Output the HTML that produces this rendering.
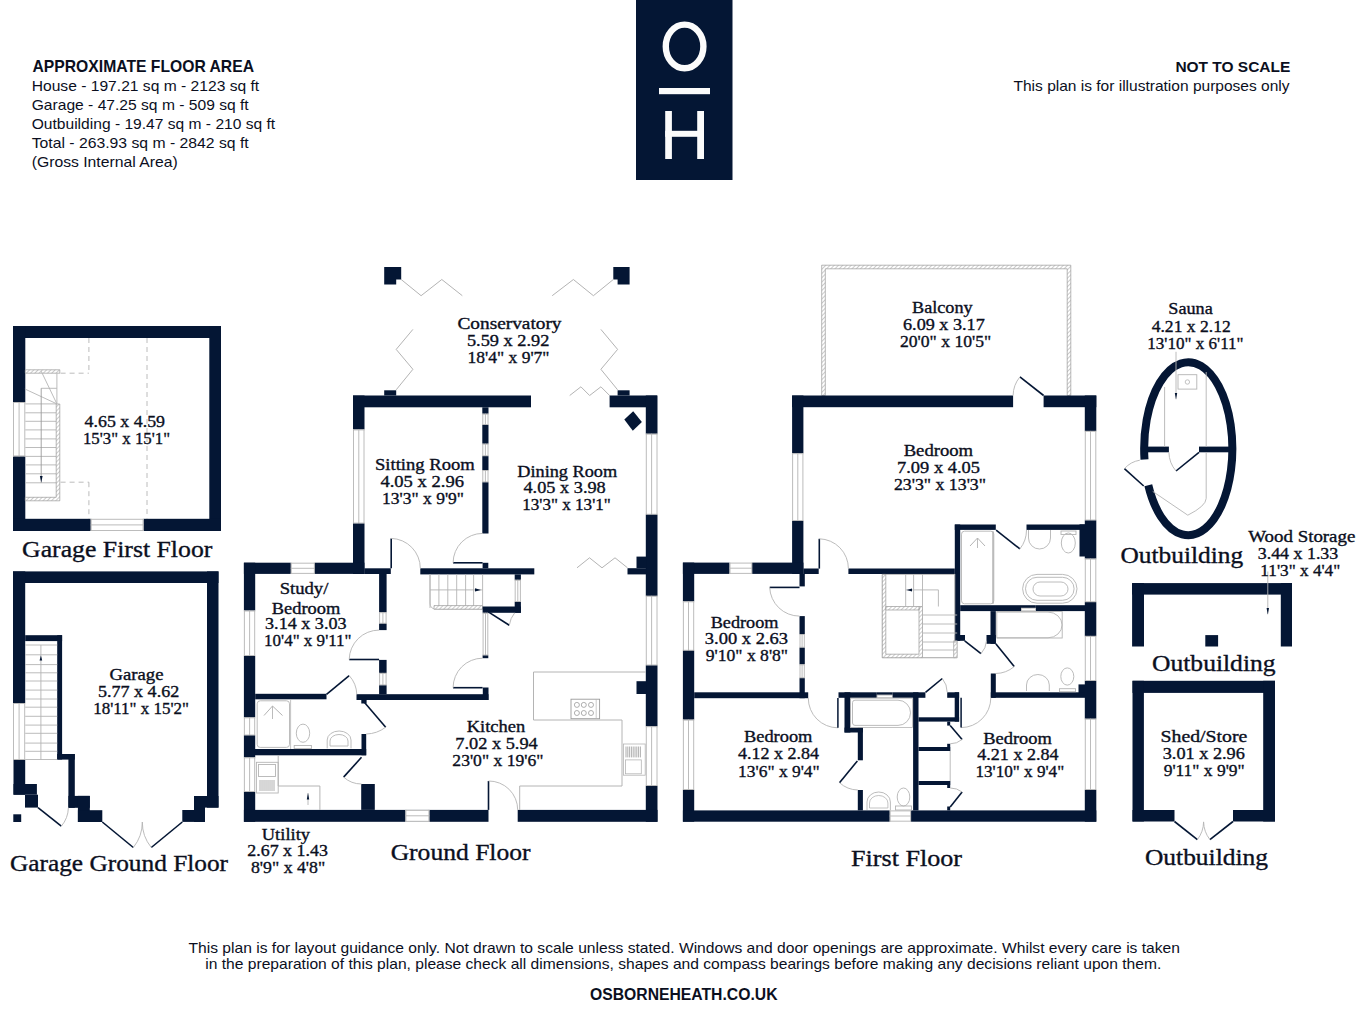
<!DOCTYPE html>
<html><head><meta charset="utf-8"><title>Floor plan</title>
<style>
html,body{margin:0;padding:0;background:#ffffff;}
body{width:1362px;height:1009px;overflow:hidden;}
svg{display:block;}
text{white-space:pre;}
</style></head>
<body>
<svg width="1362" height="1009" viewBox="0 0 1362 1009" shape-rendering="geometricPrecision">
<defs><pattern id="hatch" patternUnits="userSpaceOnUse" width="3" height="3" patternTransform="rotate(45)"><rect width="3" height="3" fill="#ffffff"/><line x1="0" y1="0" x2="0" y2="3" stroke="#a8a8a8" stroke-width="1.2"/></pattern></defs>
<rect x="0" y="0" width="1362" height="1009" fill="#ffffff"/>
<text x="32.5" y="72.0" font-family="Liberation Sans" font-size="16.2" font-weight="bold" text-anchor="start" fill="#0b0f1e" textLength="221.5" lengthAdjust="spacingAndGlyphs">APPROXIMATE FLOOR AREA</text>
<text x="31.7" y="91.0" font-family="Liberation Sans" font-size="15" font-weight="normal" text-anchor="start" fill="#0b0f1e" textLength="227.5" lengthAdjust="spacingAndGlyphs">House - 197.21 sq m - 2123 sq ft</text>
<text x="31.7" y="110.2" font-family="Liberation Sans" font-size="15" font-weight="normal" text-anchor="start" fill="#0b0f1e" textLength="217.0" lengthAdjust="spacingAndGlyphs">Garage - 47.25 sq m - 509 sq ft</text>
<text x="31.7" y="129.2" font-family="Liberation Sans" font-size="15" font-weight="normal" text-anchor="start" fill="#0b0f1e" textLength="243.5" lengthAdjust="spacingAndGlyphs">Outbuilding - 19.47 sq m - 210 sq ft</text>
<text x="31.7" y="148.2" font-family="Liberation Sans" font-size="15" font-weight="normal" text-anchor="start" fill="#0b0f1e" textLength="217.0" lengthAdjust="spacingAndGlyphs">Total - 263.93 sq m - 2842 sq ft</text>
<text x="31.7" y="166.5" font-family="Liberation Sans" font-size="15" font-weight="normal" text-anchor="start" fill="#0b0f1e" textLength="146.0" lengthAdjust="spacingAndGlyphs">(Gross Internal Area)</text>
<text x="1290.3" y="71.6" font-family="Liberation Sans" font-size="15.5" font-weight="bold" text-anchor="end" fill="#0b0f1e" textLength="114.9" lengthAdjust="spacingAndGlyphs">NOT TO SCALE</text>
<text x="1289.5" y="91.0" font-family="Liberation Sans" font-size="14.8" font-weight="normal" text-anchor="end" fill="#0b0f1e" textLength="276.0" lengthAdjust="spacingAndGlyphs">This plan is for illustration purposes only</text>
<text x="188.5" y="953.0" font-family="Liberation Sans" font-size="14.8" font-weight="normal" text-anchor="start" fill="#0b0f1e" textLength="991.5" lengthAdjust="spacingAndGlyphs">This plan is for layout guidance only. Not drawn to scale unless stated. Windows and door openings are approximate. Whilst every care is taken</text>
<text x="205.3" y="969.0" font-family="Liberation Sans" font-size="14.8" font-weight="normal" text-anchor="start" fill="#0b0f1e" textLength="956.0" lengthAdjust="spacingAndGlyphs">in the preparation of this plan, please check all dimensions, shapes and compass bearings before making any decisions reliant upon them.</text>
<text x="590.0" y="1000.2" font-family="Liberation Sans" font-size="15.8" font-weight="bold" text-anchor="start" fill="#0b0f1e" textLength="187.5" lengthAdjust="spacingAndGlyphs">OSBORNEHEATH.CO.UK</text>
<rect x="636.0" y="0.0" width="96.5" height="180.0" fill="#041634"/>
<ellipse cx="684.6" cy="46.4" rx="18.8" ry="21.8" fill="none" stroke="#fbfbfb" stroke-width="6.4"/>
<rect x="659.0" y="88.0" width="51.0" height="6.2" fill="#fbfbfb"/>
<rect x="665.2" y="111.0" width="6.7" height="48.0" fill="#fbfbfb"/>
<rect x="697.2" y="111.0" width="6.8" height="48.0" fill="#fbfbfb"/>
<rect x="665.2" y="130.8" width="38.8" height="6.0" fill="#fbfbfb"/>
<rect x="13.0" y="326.0" width="208.0" height="12.0" fill="#041634"/>
<rect x="13.0" y="326.0" width="12.3" height="76.0" fill="#041634"/>
<rect x="13.0" y="456.4" width="12.3" height="74.6" fill="#041634"/>
<line x1="13.5" y1="402.0" x2="13.5" y2="456.4" stroke="#b4b4b4" stroke-width="0.9"/>
<line x1="19.1" y1="402.0" x2="19.1" y2="456.4" stroke="#b4b4b4" stroke-width="0.9"/>
<line x1="24.8" y1="402.0" x2="24.8" y2="456.4" stroke="#b4b4b4" stroke-width="0.9"/>
<line x1="13.0" y1="402.5" x2="25.3" y2="402.5" stroke="#b4b4b4" stroke-width="0.9"/>
<line x1="13.0" y1="455.9" x2="25.3" y2="455.9" stroke="#b4b4b4" stroke-width="0.9"/>
<rect x="209.3" y="326.0" width="11.7" height="205.0" fill="#041634"/>
<rect x="13.0" y="518.8" width="77.7" height="12.2" fill="#041634"/>
<rect x="143.6" y="518.8" width="77.4" height="12.2" fill="#041634"/>
<line x1="90.7" y1="519.3" x2="143.6" y2="519.3" stroke="#b4b4b4" stroke-width="0.9"/>
<line x1="90.7" y1="524.9" x2="143.6" y2="524.9" stroke="#b4b4b4" stroke-width="0.9"/>
<line x1="90.7" y1="530.5" x2="143.6" y2="530.5" stroke="#b4b4b4" stroke-width="0.9"/>
<line x1="91.2" y1="518.8" x2="91.2" y2="531.0" stroke="#b4b4b4" stroke-width="0.9"/>
<line x1="143.1" y1="518.8" x2="143.1" y2="531.0" stroke="#b4b4b4" stroke-width="0.9"/>
<line x1="88.9" y1="338" x2="88.9" y2="373.2" stroke="#b4b4b4" stroke-width="0.9" stroke-dasharray="5,4"/>
<line x1="60.6" y1="373.2" x2="88.9" y2="373.2" stroke="#b4b4b4" stroke-width="0.9" stroke-dasharray="5,4"/>
<line x1="88.9" y1="482.2" x2="88.9" y2="518.8" stroke="#b4b4b4" stroke-width="0.9" stroke-dasharray="5,4"/>
<line x1="60.6" y1="482.2" x2="88.9" y2="482.2" stroke="#b4b4b4" stroke-width="0.9" stroke-dasharray="5,4"/>
<line x1="147" y1="338" x2="147" y2="518.8" stroke="#b4b4b4" stroke-width="0.9" stroke-dasharray="5,4"/>
<line x1="25.3" y1="403.9" x2="56.9" y2="403.9" stroke="#b4b4b4" stroke-width="0.9"/>
<line x1="25.3" y1="412.8" x2="56.9" y2="412.8" stroke="#b4b4b4" stroke-width="0.9"/>
<line x1="25.3" y1="421.3" x2="56.9" y2="421.3" stroke="#b4b4b4" stroke-width="0.9"/>
<line x1="25.3" y1="429.9" x2="56.9" y2="429.9" stroke="#b4b4b4" stroke-width="0.9"/>
<line x1="25.3" y1="438.9" x2="56.9" y2="438.9" stroke="#b4b4b4" stroke-width="0.9"/>
<line x1="25.3" y1="447.5" x2="56.9" y2="447.5" stroke="#b4b4b4" stroke-width="0.9"/>
<line x1="25.3" y1="456.4" x2="56.9" y2="456.4" stroke="#b4b4b4" stroke-width="0.9"/>
<line x1="25.3" y1="464.9" x2="56.9" y2="464.9" stroke="#b4b4b4" stroke-width="0.9"/>
<line x1="25.3" y1="473.8" x2="56.9" y2="473.8" stroke="#b4b4b4" stroke-width="0.9"/>
<line x1="25.3" y1="482.8" x2="56.9" y2="482.8" stroke="#b4b4b4" stroke-width="0.9"/>
<path d="M25.3,369.8 H59.8 V373.2 H25.3 Z" fill="url(#hatch)" fill-rule="evenodd" stroke="#9a9a9a" stroke-width="0.7"/>
<path d="M56.2,404 H59.8 V500.8 H25.3 V497.3 H56.2 Z" fill="url(#hatch)" fill-rule="evenodd" stroke="#9a9a9a" stroke-width="0.7"/>
<line x1="56.9" y1="373.4" x2="56.9" y2="403.9" stroke="#b4b4b4" stroke-width="0.9"/>
<line x1="24.9" y1="389.0" x2="56.9" y2="403.9" stroke="#b4b4b4" stroke-width="0.9"/>
<line x1="41.2" y1="371.2" x2="56.9" y2="403.9" stroke="#b4b4b4" stroke-width="0.9"/>
<line x1="41.2" y1="388.3" x2="56.9" y2="388.3" stroke="#b4b4b4" stroke-width="0.9"/>
<line x1="41.2" y1="388.3" x2="41.2" y2="482.8" stroke="#9a9a9a" stroke-width="0.9"/>
<polygon points="41.25,482.5 39.9,476 42.6,476" fill="#041634"/>
<text x="124.8" y="427.3" font-family="Liberation Serif" font-size="16.48" font-weight="normal" text-anchor="middle" fill="#0b0f1e" stroke="#0b0f1e" stroke-width="0.35" textLength="80.4" lengthAdjust="spacingAndGlyphs">4.65 x 4.59</text>
<text x="126.5" y="444.0" font-family="Liberation Serif" font-size="16.48" font-weight="normal" text-anchor="middle" fill="#0b0f1e" stroke="#0b0f1e" stroke-width="0.35" textLength="87.1" lengthAdjust="spacingAndGlyphs">15'3&quot; x 15'1&quot;</text>
<text x="117.2" y="557.3" font-family="Liberation Serif" font-size="23.69" font-weight="normal" text-anchor="middle" fill="#0b0f1e" stroke="#0b0f1e" stroke-width="0.35" textLength="190.3" lengthAdjust="spacingAndGlyphs">Garage First Floor</text>
<rect x="13.0" y="571.4" width="205.5" height="11.6" fill="#041634"/>
<rect x="13.0" y="571.4" width="12.2" height="131.6" fill="#041634"/>
<line x1="13.5" y1="703.0" x2="13.5" y2="760.0" stroke="#b4b4b4" stroke-width="0.9"/>
<line x1="19.1" y1="703.0" x2="19.1" y2="760.0" stroke="#b4b4b4" stroke-width="0.9"/>
<line x1="24.7" y1="703.0" x2="24.7" y2="760.0" stroke="#b4b4b4" stroke-width="0.9"/>
<line x1="13.0" y1="703.5" x2="25.2" y2="703.5" stroke="#b4b4b4" stroke-width="0.9"/>
<line x1="13.0" y1="759.5" x2="25.2" y2="759.5" stroke="#b4b4b4" stroke-width="0.9"/>
<rect x="13.5" y="760.0" width="11.7" height="34.7" fill="#041634"/>
<rect x="13.5" y="784.0" width="23.4" height="10.7" fill="#041634"/>
<rect x="25.0" y="794.7" width="13.0" height="12.9" fill="#041634"/>
<rect x="13.3" y="814.3" width="7.9" height="7.7" fill="#041634"/>
<rect x="207.0" y="571.4" width="11.5" height="236.2" fill="#041634"/>
<rect x="194.0" y="796.0" width="24.5" height="11.6" fill="#041634"/>
<rect x="182.3" y="810.0" width="22.7" height="11.9" fill="#041634"/>
<rect x="194.0" y="796.0" width="11.0" height="25.9" fill="#041634"/>
<rect x="25.2" y="635.2" width="36.9" height="5.9" fill="#041634"/>
<rect x="57.2" y="635.2" width="4.9" height="124.3" fill="#041634"/>
<rect x="57.2" y="754.0" width="17.6" height="5.6" fill="#041634"/>
<rect x="68.4" y="754.0" width="6.4" height="53.8" fill="#041634"/>
<rect x="68.4" y="795.9" width="21.4" height="11.9" fill="#041634"/>
<rect x="77.9" y="795.9" width="11.9" height="26.1" fill="#041634"/>
<rect x="77.9" y="810.2" width="24.4" height="11.8" fill="#041634"/>
<line x1="25.2" y1="645.0" x2="57.2" y2="645.0" stroke="#b4b4b4" stroke-width="0.9"/>
<line x1="25.2" y1="654.8" x2="57.2" y2="654.8" stroke="#b4b4b4" stroke-width="0.9"/>
<line x1="25.2" y1="664.6" x2="57.2" y2="664.6" stroke="#b4b4b4" stroke-width="0.9"/>
<line x1="25.2" y1="672.8" x2="57.2" y2="672.8" stroke="#b4b4b4" stroke-width="0.9"/>
<line x1="25.2" y1="681.0" x2="57.2" y2="681.0" stroke="#b4b4b4" stroke-width="0.9"/>
<line x1="25.2" y1="690.1" x2="57.2" y2="690.1" stroke="#b4b4b4" stroke-width="0.9"/>
<line x1="25.2" y1="699.0" x2="57.2" y2="699.0" stroke="#b4b4b4" stroke-width="0.9"/>
<line x1="25.2" y1="707.2" x2="57.2" y2="707.2" stroke="#b4b4b4" stroke-width="0.9"/>
<line x1="25.2" y1="716.3" x2="57.2" y2="716.3" stroke="#b4b4b4" stroke-width="0.9"/>
<line x1="25.2" y1="725.1" x2="57.2" y2="725.1" stroke="#b4b4b4" stroke-width="0.9"/>
<line x1="25.2" y1="733.3" x2="57.2" y2="733.3" stroke="#b4b4b4" stroke-width="0.9"/>
<line x1="25.2" y1="743.1" x2="57.2" y2="743.1" stroke="#b4b4b4" stroke-width="0.9"/>
<line x1="25.2" y1="751.3" x2="57.2" y2="751.3" stroke="#b4b4b4" stroke-width="0.9"/>
<line x1="25.2" y1="759.5" x2="57.2" y2="759.5" stroke="#b4b4b4" stroke-width="0.9"/>
<line x1="40.9" y1="645.0" x2="40.9" y2="759.5" stroke="#b4b4b4" stroke-width="0.9"/>
<polygon points="40.9,655.5 39.6,660.5 42.2,660.5" fill="#041634"/>
<line x1="38.0" y1="807.6" x2="61.3" y2="826.2" stroke="#041634" stroke-width="1.6"/>
<path d="M61.3,826.2 A29.8,29.8 0 0 0 68.4,807.8" fill="none" stroke="#b4b4b4" stroke-width="0.9"/>
<line x1="102.3" y1="822.0" x2="133.3" y2="847.5" stroke="#041634" stroke-width="1.6"/>
<line x1="182.3" y1="822.0" x2="151.3" y2="847.5" stroke="#041634" stroke-width="1.6"/>
<path d="M133.3,847.5 A40.0,40.0 0 0 0 142.3,822.0" fill="none" stroke="#b4b4b4" stroke-width="0.9"/>
<path d="M142.3,822.0 A40.0,40.0 0 0 0 151.3,847.5" fill="none" stroke="#b4b4b4" stroke-width="0.9"/>
<text x="136.5" y="680.3" font-family="Liberation Serif" font-size="16.48" font-weight="normal" text-anchor="middle" fill="#0b0f1e" stroke="#0b0f1e" stroke-width="0.35" textLength="54.0" lengthAdjust="spacingAndGlyphs">Garage</text>
<text x="138.6" y="696.7" font-family="Liberation Serif" font-size="16.48" font-weight="normal" text-anchor="middle" fill="#0b0f1e" stroke="#0b0f1e" stroke-width="0.35" textLength="81.2" lengthAdjust="spacingAndGlyphs">5.77 x 4.62</text>
<text x="141.1" y="713.7" font-family="Liberation Serif" font-size="16.48" font-weight="normal" text-anchor="middle" fill="#0b0f1e" stroke="#0b0f1e" stroke-width="0.35" textLength="95.8" lengthAdjust="spacingAndGlyphs">18'11&quot; x 15'2&quot;</text>
<text x="119.0" y="871.3" font-family="Liberation Serif" font-size="23.69" font-weight="normal" text-anchor="middle" fill="#0b0f1e" stroke="#0b0f1e" stroke-width="0.35" textLength="218.1" lengthAdjust="spacingAndGlyphs">Garage Ground Floor</text>
<polygon points="384.2,267.0 401.2,267.0 401.2,279.5 396.2,279.5 396.2,284.4 384.2,284.4" fill="#041634"/>
<polygon points="613.3,267.0 629.6,267.0 629.6,284.4 617.6,284.4 617.6,279.5 613.3,279.5" fill="#041634"/>
<polyline points="401.2,279.5 421.1,295.7 441.8,279.5 462.3,295.7" fill="none" stroke="#b4b4b4" stroke-width="1.0"/>
<polyline points="552.2,295.7 573.4,279.5 593.4,295.7 613.3,279.5" fill="none" stroke="#b4b4b4" stroke-width="1.0"/>
<polyline points="412.9,329.4 396.2,349.4 412.9,369.3 396.2,389.8" fill="none" stroke="#b4b4b4" stroke-width="1.0"/>
<polyline points="600.9,329.4 617.6,349.4 600.9,369.3 617.6,389.8" fill="none" stroke="#b4b4b4" stroke-width="1.0"/>
<polyline points="569.7,395.5 580.9,386.8 589.6,395.5 600.9,386.8 609.6,395.5" fill="none" stroke="#b4b4b4" stroke-width="1.0"/>
<text x="509.5" y="329.4" font-family="Liberation Serif" font-size="16.48" font-weight="normal" text-anchor="middle" fill="#0b0f1e" stroke="#0b0f1e" stroke-width="0.35" textLength="104.0" lengthAdjust="spacingAndGlyphs">Conservatory</text>
<text x="508.2" y="346.0" font-family="Liberation Serif" font-size="16.48" font-weight="normal" text-anchor="middle" fill="#0b0f1e" stroke="#0b0f1e" stroke-width="0.35" textLength="82.5" lengthAdjust="spacingAndGlyphs">5.59 x 2.92</text>
<text x="508.5" y="362.8" font-family="Liberation Serif" font-size="16.48" font-weight="normal" text-anchor="middle" fill="#0b0f1e" stroke="#0b0f1e" stroke-width="0.35" textLength="82.0" lengthAdjust="spacingAndGlyphs">18'4&quot; x 9'7&quot;</text>
<rect x="353.0" y="395.5" width="178.0" height="11.8" fill="#041634"/>
<rect x="384.2" y="390.3" width="12.0" height="5.2" fill="#041634"/>
<rect x="609.6" y="395.5" width="47.4" height="11.8" fill="#041634"/>
<rect x="617.6" y="390.3" width="12.0" height="5.2" fill="#041634"/>
<rect x="353.0" y="395.5" width="11.5" height="33.9" fill="#041634"/>
<line x1="353.5" y1="429.4" x2="353.5" y2="523.6" stroke="#b4b4b4" stroke-width="0.9"/>
<line x1="358.8" y1="429.4" x2="358.8" y2="523.6" stroke="#b4b4b4" stroke-width="0.9"/>
<line x1="364.0" y1="429.4" x2="364.0" y2="523.6" stroke="#b4b4b4" stroke-width="0.9"/>
<line x1="353.0" y1="429.9" x2="364.5" y2="429.9" stroke="#b4b4b4" stroke-width="0.9"/>
<line x1="353.0" y1="523.1" x2="364.5" y2="523.1" stroke="#b4b4b4" stroke-width="0.9"/>
<rect x="353.0" y="523.6" width="11.5" height="50.4" fill="#041634"/>
<rect x="482.3" y="407.3" width="6.2" height="6.4" fill="#041634"/>
<line x1="482.8" y1="413.7" x2="482.8" y2="425.0" stroke="#b4b4b4" stroke-width="0.9"/>
<line x1="485.4" y1="413.7" x2="485.4" y2="425.0" stroke="#b4b4b4" stroke-width="0.9"/>
<line x1="488.0" y1="413.7" x2="488.0" y2="425.0" stroke="#b4b4b4" stroke-width="0.9"/>
<line x1="482.3" y1="414.2" x2="488.5" y2="414.2" stroke="#b4b4b4" stroke-width="0.9"/>
<line x1="482.3" y1="424.5" x2="488.5" y2="424.5" stroke="#b4b4b4" stroke-width="0.9"/>
<rect x="482.3" y="425.0" width="6.2" height="18.7" fill="#041634"/>
<line x1="482.8" y1="443.7" x2="482.8" y2="456.2" stroke="#b4b4b4" stroke-width="0.9"/>
<line x1="485.4" y1="443.7" x2="485.4" y2="456.2" stroke="#b4b4b4" stroke-width="0.9"/>
<line x1="488.0" y1="443.7" x2="488.0" y2="456.2" stroke="#b4b4b4" stroke-width="0.9"/>
<line x1="482.3" y1="444.2" x2="488.5" y2="444.2" stroke="#b4b4b4" stroke-width="0.9"/>
<line x1="482.3" y1="455.7" x2="488.5" y2="455.7" stroke="#b4b4b4" stroke-width="0.9"/>
<rect x="482.3" y="456.2" width="6.2" height="13.8" fill="#041634"/>
<line x1="482.8" y1="470.0" x2="482.8" y2="482.4" stroke="#b4b4b4" stroke-width="0.9"/>
<line x1="485.4" y1="470.0" x2="485.4" y2="482.4" stroke="#b4b4b4" stroke-width="0.9"/>
<line x1="488.0" y1="470.0" x2="488.0" y2="482.4" stroke="#b4b4b4" stroke-width="0.9"/>
<line x1="482.3" y1="470.5" x2="488.5" y2="470.5" stroke="#b4b4b4" stroke-width="0.9"/>
<line x1="482.3" y1="481.9" x2="488.5" y2="481.9" stroke="#b4b4b4" stroke-width="0.9"/>
<rect x="482.3" y="482.4" width="6.2" height="51.1" fill="#041634"/>
<rect x="645.8" y="395.5" width="11.7" height="38.2" fill="#041634"/>
<line x1="646.3" y1="433.7" x2="646.3" y2="514.8" stroke="#b4b4b4" stroke-width="0.9"/>
<line x1="651.6" y1="433.7" x2="651.6" y2="514.8" stroke="#b4b4b4" stroke-width="0.9"/>
<line x1="657.0" y1="433.7" x2="657.0" y2="514.8" stroke="#b4b4b4" stroke-width="0.9"/>
<line x1="645.8" y1="434.2" x2="657.5" y2="434.2" stroke="#b4b4b4" stroke-width="0.9"/>
<line x1="645.8" y1="514.3" x2="657.5" y2="514.3" stroke="#b4b4b4" stroke-width="0.9"/>
<rect x="645.8" y="514.8" width="11.7" height="81.0" fill="#041634"/>
<line x1="646.3" y1="595.8" x2="646.3" y2="665.5" stroke="#b4b4b4" stroke-width="0.9"/>
<line x1="651.6" y1="595.8" x2="651.6" y2="665.5" stroke="#b4b4b4" stroke-width="0.9"/>
<line x1="657.0" y1="595.8" x2="657.0" y2="665.5" stroke="#b4b4b4" stroke-width="0.9"/>
<line x1="645.8" y1="596.3" x2="657.5" y2="596.3" stroke="#b4b4b4" stroke-width="0.9"/>
<line x1="645.8" y1="665.0" x2="657.5" y2="665.0" stroke="#b4b4b4" stroke-width="0.9"/>
<rect x="645.8" y="665.5" width="11.7" height="60.7" fill="#041634"/>
<line x1="646.3" y1="726.2" x2="646.3" y2="786.0" stroke="#b4b4b4" stroke-width="0.9"/>
<line x1="651.6" y1="726.2" x2="651.6" y2="786.0" stroke="#b4b4b4" stroke-width="0.9"/>
<line x1="657.0" y1="726.2" x2="657.0" y2="786.0" stroke="#b4b4b4" stroke-width="0.9"/>
<line x1="645.8" y1="726.7" x2="657.5" y2="726.7" stroke="#b4b4b4" stroke-width="0.9"/>
<line x1="645.8" y1="785.5" x2="657.5" y2="785.5" stroke="#b4b4b4" stroke-width="0.9"/>
<rect x="645.8" y="786.0" width="11.7" height="35.8" fill="#041634"/>
<rect x="636.5" y="556.6" width="9.8" height="11.6" fill="#041634"/>
<rect x="627.5" y="568.2" width="18.8" height="6.2" fill="#041634"/>
<rect x="636.5" y="681.2" width="9.8" height="12.8" fill="#041634"/>
<polygon points="633.2,411.2 641.9,421.9 632.8,430.7 624.3,419.6" fill="#041634"/>
<polyline points="577.0,567.8 589.5,557.8 602.0,567.8 615.0,557.8 627.5,567.8" fill="none" stroke="#b4b4b4" stroke-width="1.0"/>
<rect x="243.9" y="562.7" width="46.9" height="11.2" fill="#041634"/>
<line x1="290.8" y1="563.2" x2="314.9" y2="563.2" stroke="#b4b4b4" stroke-width="0.9"/>
<line x1="290.8" y1="568.3" x2="314.9" y2="568.3" stroke="#b4b4b4" stroke-width="0.9"/>
<line x1="290.8" y1="573.4" x2="314.9" y2="573.4" stroke="#b4b4b4" stroke-width="0.9"/>
<line x1="291.3" y1="562.7" x2="291.3" y2="573.9" stroke="#b4b4b4" stroke-width="0.9"/>
<line x1="314.4" y1="562.7" x2="314.4" y2="573.9" stroke="#b4b4b4" stroke-width="0.9"/>
<rect x="314.9" y="562.7" width="49.5" height="11.2" fill="#041634"/>
<rect x="364.4" y="568.3" width="26.4" height="5.7" fill="#041634"/>
<rect x="420.3" y="568.3" width="114.0" height="6.1" fill="#041634"/>
<rect x="243.9" y="562.7" width="11.3" height="47.8" fill="#041634"/>
<line x1="244.4" y1="610.5" x2="244.4" y2="656.0" stroke="#b4b4b4" stroke-width="0.9"/>
<line x1="249.6" y1="610.5" x2="249.6" y2="656.0" stroke="#b4b4b4" stroke-width="0.9"/>
<line x1="254.7" y1="610.5" x2="254.7" y2="656.0" stroke="#b4b4b4" stroke-width="0.9"/>
<line x1="243.9" y1="611.0" x2="255.2" y2="611.0" stroke="#b4b4b4" stroke-width="0.9"/>
<line x1="243.9" y1="655.5" x2="255.2" y2="655.5" stroke="#b4b4b4" stroke-width="0.9"/>
<rect x="243.9" y="656.0" width="11.3" height="61.3" fill="#041634"/>
<line x1="244.4" y1="717.3" x2="244.4" y2="735.5" stroke="#b4b4b4" stroke-width="0.9"/>
<line x1="249.6" y1="717.3" x2="249.6" y2="735.5" stroke="#b4b4b4" stroke-width="0.9"/>
<line x1="254.7" y1="717.3" x2="254.7" y2="735.5" stroke="#b4b4b4" stroke-width="0.9"/>
<line x1="243.9" y1="717.8" x2="255.2" y2="717.8" stroke="#b4b4b4" stroke-width="0.9"/>
<line x1="243.9" y1="735.0" x2="255.2" y2="735.0" stroke="#b4b4b4" stroke-width="0.9"/>
<rect x="243.9" y="735.5" width="11.3" height="21.8" fill="#041634"/>
<line x1="244.4" y1="757.3" x2="244.4" y2="792.0" stroke="#b4b4b4" stroke-width="0.9"/>
<line x1="249.6" y1="757.3" x2="249.6" y2="792.0" stroke="#b4b4b4" stroke-width="0.9"/>
<line x1="254.7" y1="757.3" x2="254.7" y2="792.0" stroke="#b4b4b4" stroke-width="0.9"/>
<line x1="243.9" y1="757.8" x2="255.2" y2="757.8" stroke="#b4b4b4" stroke-width="0.9"/>
<line x1="243.9" y1="791.5" x2="255.2" y2="791.5" stroke="#b4b4b4" stroke-width="0.9"/>
<rect x="243.9" y="792.0" width="11.3" height="29.8" fill="#041634"/>
<rect x="379.1" y="573.9" width="7.5" height="38.3" fill="#041634"/>
<line x1="379.6" y1="612.2" x2="379.6" y2="623.8" stroke="#b4b4b4" stroke-width="0.9"/>
<line x1="382.9" y1="612.2" x2="382.9" y2="623.8" stroke="#b4b4b4" stroke-width="0.9"/>
<line x1="386.1" y1="612.2" x2="386.1" y2="623.8" stroke="#b4b4b4" stroke-width="0.9"/>
<line x1="379.1" y1="612.7" x2="386.6" y2="612.7" stroke="#b4b4b4" stroke-width="0.9"/>
<line x1="379.1" y1="623.3" x2="386.6" y2="623.3" stroke="#b4b4b4" stroke-width="0.9"/>
<rect x="379.1" y="623.8" width="7.5" height="6.3" fill="#041634"/>
<rect x="379.1" y="659.9" width="7.5" height="13.0" fill="#041634"/>
<line x1="379.6" y1="672.9" x2="379.6" y2="685.4" stroke="#b4b4b4" stroke-width="0.9"/>
<line x1="382.9" y1="672.9" x2="382.9" y2="685.4" stroke="#b4b4b4" stroke-width="0.9"/>
<line x1="386.1" y1="672.9" x2="386.1" y2="685.4" stroke="#b4b4b4" stroke-width="0.9"/>
<line x1="379.1" y1="673.4" x2="386.6" y2="673.4" stroke="#b4b4b4" stroke-width="0.9"/>
<line x1="379.1" y1="684.9" x2="386.6" y2="684.9" stroke="#b4b4b4" stroke-width="0.9"/>
<rect x="379.1" y="685.4" width="7.5" height="8.9" fill="#041634"/>
<line x1="379.1" y1="659.5" x2="349.2" y2="659.5" stroke="#041634" stroke-width="1.6"/>
<path d="M349.2,659.5 A29.9,29.9 0 0 1 379.1,630.1" fill="none" stroke="#b4b4b4" stroke-width="0.9"/>
<line x1="391.2" y1="568.3" x2="391.2" y2="538.4" stroke="#041634" stroke-width="1.6"/>
<path d="M391.2,538.4 A29.9,29.9 0 0 1 420.3,568.3" fill="none" stroke="#b4b4b4" stroke-width="0.9"/>
<rect x="255.2" y="693.8" width="71.3" height="5.5" fill="#041634"/>
<rect x="356.5" y="694.2" width="132.0" height="5.8" fill="#041634"/>
<rect x="482.8" y="687.5" width="5.7" height="12.5" fill="#041634"/>
<line x1="326.5" y1="694.3" x2="349.2" y2="675.6" stroke="#041634" stroke-width="1.6"/>
<path d="M349.2,675.6 A29.4,29.4 0 0 1 356.8,694.3" fill="none" stroke="#b4b4b4" stroke-width="0.9"/>
<rect x="361.3" y="699.3" width="5.3" height="4.2" fill="#041634"/>
<line x1="482.6" y1="562.8" x2="453.1" y2="562.8" stroke="#041634" stroke-width="1.6"/>
<path d="M453.1,562.8 A29.5,29.5 0 0 1 482.6,533.4" fill="none" stroke="#b4b4b4" stroke-width="0.9"/>
<rect x="482.6" y="562.8" width="5.7" height="5.5" fill="#041634"/>
<line x1="430.0" y1="574.4" x2="430.0" y2="608.0" stroke="#b4b4b4" stroke-width="0.9"/>
<line x1="438.9" y1="574.4" x2="438.9" y2="608.0" stroke="#b4b4b4" stroke-width="0.9"/>
<line x1="447.8" y1="574.4" x2="447.8" y2="608.0" stroke="#b4b4b4" stroke-width="0.9"/>
<line x1="456.7" y1="574.4" x2="456.7" y2="608.0" stroke="#b4b4b4" stroke-width="0.9"/>
<line x1="465.6" y1="574.4" x2="465.6" y2="608.0" stroke="#b4b4b4" stroke-width="0.9"/>
<line x1="473.6" y1="574.4" x2="473.6" y2="608.0" stroke="#b4b4b4" stroke-width="0.9"/>
<line x1="430.0" y1="589.9" x2="482.6" y2="589.9" stroke="#b4b4b4" stroke-width="0.9"/>
<line x1="482.6" y1="574.4" x2="482.6" y2="609.0" stroke="#b4b4b4" stroke-width="0.9"/>
<polygon points="481,589.9 475,588.3 475,591.5" fill="#041634"/>
<path d="M430,574.4 L430,603 Q430,609 436,609 L482.6,609" fill="none" stroke="#b4b4b4" stroke-width="0.9"/>
<path d="M434,605.6 H482.6 V609.2 H434 Z" fill="url(#hatch)" fill-rule="evenodd" stroke="#9a9a9a" stroke-width="0.7"/>
<rect x="514.7" y="574.4" width="6.2" height="5.4" fill="#041634"/>
<line x1="515.2" y1="579.8" x2="515.2" y2="602.0" stroke="#b4b4b4" stroke-width="0.9"/>
<line x1="517.8" y1="579.8" x2="517.8" y2="602.0" stroke="#b4b4b4" stroke-width="0.9"/>
<line x1="520.4" y1="579.8" x2="520.4" y2="602.0" stroke="#b4b4b4" stroke-width="0.9"/>
<line x1="514.7" y1="580.3" x2="520.9" y2="580.3" stroke="#b4b4b4" stroke-width="0.9"/>
<line x1="514.7" y1="601.5" x2="520.9" y2="601.5" stroke="#b4b4b4" stroke-width="0.9"/>
<rect x="514.7" y="602.0" width="6.2" height="10.8" fill="#041634"/>
<rect x="482.6" y="606.5" width="38.3" height="6.3" fill="#041634"/>
<line x1="483.1" y1="612.8" x2="483.1" y2="655.5" stroke="#b4b4b4" stroke-width="0.9"/>
<line x1="485.5" y1="612.8" x2="485.5" y2="655.5" stroke="#b4b4b4" stroke-width="0.9"/>
<line x1="487.8" y1="612.8" x2="487.8" y2="655.5" stroke="#b4b4b4" stroke-width="0.9"/>
<line x1="482.6" y1="613.3" x2="488.3" y2="613.3" stroke="#b4b4b4" stroke-width="0.9"/>
<line x1="482.6" y1="655.0" x2="488.3" y2="655.0" stroke="#b4b4b4" stroke-width="0.9"/>
<rect x="482.6" y="655.5" width="5.7" height="2.7" fill="#041634"/>
<line x1="488.3" y1="611.9" x2="509.3" y2="625.2" stroke="#041634" stroke-width="1.6"/>
<path d="M509.3,625.2 A24.9,24.9 0 0 1 514.7,612.8" fill="none" stroke="#b4b4b4" stroke-width="0.9"/>
<line x1="482.6" y1="687.7" x2="453.1" y2="687.7" stroke="#041634" stroke-width="1.6"/>
<path d="M453.1,687.7 A29.5,29.5 0 0 1 482.6,658.2" fill="none" stroke="#b4b4b4" stroke-width="0.9"/>
<rect x="254.8" y="749.0" width="111.4" height="6.3" fill="#041634"/>
<rect x="361.5" y="734.0" width="4.7" height="21.3" fill="#041634"/>
<rect x="243.9" y="809.9" width="244.6" height="11.9" fill="#041634"/>
<rect x="517.7" y="809.9" width="139.8" height="11.9" fill="#041634"/>
<rect x="361.2" y="784.0" width="13.6" height="25.9" fill="#041634"/>
<rect x="405.4" y="809.9" width="24.0" height="11.9" fill="#ffffff"/>
<line x1="405.4" y1="810.4" x2="429.4" y2="810.4" stroke="#b4b4b4" stroke-width="0.9"/>
<line x1="405.4" y1="815.8" x2="429.4" y2="815.8" stroke="#b4b4b4" stroke-width="0.9"/>
<line x1="405.4" y1="821.3" x2="429.4" y2="821.3" stroke="#b4b4b4" stroke-width="0.9"/>
<line x1="405.9" y1="809.9" x2="405.9" y2="821.8" stroke="#b4b4b4" stroke-width="0.9"/>
<line x1="428.9" y1="809.9" x2="428.9" y2="821.8" stroke="#b4b4b4" stroke-width="0.9"/>
<line x1="363.9" y1="701.8" x2="385.7" y2="727.2" stroke="#041634" stroke-width="1.6"/>
<path d="M385.7,727.2 A33.5,33.5 0 0 1 366.2,734.0" fill="none" stroke="#b4b4b4" stroke-width="0.9"/>
<line x1="361.5" y1="757.3" x2="343.6" y2="777.1" stroke="#041634" stroke-width="1.6"/>
<path d="M343.6,777.1 A26.7,26.7 0 0 0 361.5,784.0" fill="none" stroke="#b4b4b4" stroke-width="0.9"/>
<line x1="488.5" y1="809.9" x2="488.5" y2="781.0" stroke="#041634" stroke-width="1.6"/>
<path d="M488.5,781.0 A28.9,28.9 0 0 1 517.7,809.9" fill="none" stroke="#b4b4b4" stroke-width="0.9"/>
<rect x="257.2" y="700.8" width="32.3" height="46.6" rx="3" fill="none" stroke="#b4b4b4" stroke-width="0.9"/>
<polyline points="264.0,715.5 272.5,706.0 282.5,715.5" fill="none" stroke="#b4b4b4" stroke-width="1.0"/>
<line x1="272.5" y1="706.0" x2="272.5" y2="719.0" stroke="#b4b4b4" stroke-width="0.9"/>
<line x1="290.6" y1="699.3" x2="290.6" y2="749.0" stroke="#b4b4b4" stroke-width="0.8"/>
<ellipse cx="303" cy="733.2" rx="6.7" ry="9.1" fill="none" stroke="#b4b4b4" stroke-width="0.9"/>
<rect x="294.2" y="745.5" width="17.2" height="3.1" fill="none" stroke="#b4b4b4" stroke-width="0.9"/>
<path d="M327.2,748.4 L327.2,740 A11.9,9 0 0 1 351,740 L351,748.4" fill="none" stroke="#b4b4b4" stroke-width="0.9"/>
<path d="M330,746 L330,741 A9,6.5 0 0 1 348,741 L348,746 Z" fill="none" stroke="#b4b4b4" stroke-width="0.9"/>
<rect x="256.4" y="762.3" width="21.8" height="30.7" fill="none" stroke="#b4b4b4" stroke-width="0.9"/>
<rect x="258.5" y="764.5" width="17" height="12" fill="none" stroke="#b4b4b4" stroke-width="0.9"/>
<line x1="260.0" y1="780.0" x2="260.0" y2="791.0" stroke="#9a9a9a" stroke-width="0.8"/>
<line x1="262.0" y1="780.0" x2="262.0" y2="791.0" stroke="#9a9a9a" stroke-width="0.8"/>
<line x1="264.0" y1="780.0" x2="264.0" y2="791.0" stroke="#9a9a9a" stroke-width="0.8"/>
<line x1="266.0" y1="780.0" x2="266.0" y2="791.0" stroke="#9a9a9a" stroke-width="0.8"/>
<line x1="268.0" y1="780.0" x2="268.0" y2="791.0" stroke="#9a9a9a" stroke-width="0.8"/>
<line x1="270.0" y1="780.0" x2="270.0" y2="791.0" stroke="#9a9a9a" stroke-width="0.8"/>
<line x1="272.0" y1="780.0" x2="272.0" y2="791.0" stroke="#9a9a9a" stroke-width="0.8"/>
<line x1="274.0" y1="780.0" x2="274.0" y2="791.0" stroke="#9a9a9a" stroke-width="0.8"/>
<polyline points="278.2,755.3 278.2,786.0 319.9,786.0 319.9,809.9" fill="none" stroke="#b4b4b4" stroke-width="1.0"/>
<line x1="308.0" y1="793.0" x2="308.0" y2="805.0" stroke="#b4b4b4" stroke-width="0.9"/>
<polygon points="308,793 306.8,799.5 309.2,799.5" fill="#041634"/>
<polyline points="533.5,672.0 645.8,672.0" fill="none" stroke="#b4b4b4" stroke-width="1.0"/>
<polyline points="533.5,672.0 533.5,720.0 622.0,720.0 622.0,786.0 519.7,786.0 519.7,809.9" fill="none" stroke="#b4b4b4" stroke-width="1.0"/>
<rect x="571" y="699.2" width="28.6" height="19.5" fill="none" stroke="#9a9a9a" stroke-width="0.9"/>
<line x1="596.2" y1="699.2" x2="596.2" y2="718.7" stroke="#b4b4b4" stroke-width="0.7"/>
<circle cx="576.9" cy="704.9" r="2.5" fill="none" stroke="#9a9a9a" stroke-width="0.8"/>
<circle cx="576.9" cy="713.0" r="2.5" fill="none" stroke="#9a9a9a" stroke-width="0.8"/>
<circle cx="583.8" cy="704.9" r="2.5" fill="none" stroke="#9a9a9a" stroke-width="0.8"/>
<circle cx="583.8" cy="713.0" r="2.5" fill="none" stroke="#9a9a9a" stroke-width="0.8"/>
<circle cx="591.0" cy="704.9" r="2.5" fill="none" stroke="#9a9a9a" stroke-width="0.8"/>
<circle cx="591.0" cy="713.0" r="2.5" fill="none" stroke="#9a9a9a" stroke-width="0.8"/>
<rect x="623.4" y="744" width="21.8" height="31.2" fill="none" stroke="#b4b4b4" stroke-width="0.8"/>
<line x1="626.0" y1="746.5" x2="626.0" y2="757.4" stroke="#9a9a9a" stroke-width="0.8"/>
<line x1="627.8" y1="746.5" x2="627.8" y2="757.4" stroke="#9a9a9a" stroke-width="0.8"/>
<line x1="629.6" y1="746.5" x2="629.6" y2="757.4" stroke="#9a9a9a" stroke-width="0.8"/>
<line x1="631.4" y1="746.5" x2="631.4" y2="757.4" stroke="#9a9a9a" stroke-width="0.8"/>
<line x1="633.2" y1="746.5" x2="633.2" y2="757.4" stroke="#9a9a9a" stroke-width="0.8"/>
<line x1="635.0" y1="746.5" x2="635.0" y2="757.4" stroke="#9a9a9a" stroke-width="0.8"/>
<line x1="636.8" y1="746.5" x2="636.8" y2="757.4" stroke="#9a9a9a" stroke-width="0.8"/>
<line x1="638.6" y1="746.5" x2="638.6" y2="757.4" stroke="#9a9a9a" stroke-width="0.8"/>
<line x1="640.4" y1="746.5" x2="640.4" y2="757.4" stroke="#9a9a9a" stroke-width="0.8"/>
<rect x="625.4" y="759.9" width="15.9" height="13.9" fill="none" stroke="#b4b4b4" stroke-width="0.8"/>
<text x="424.9" y="469.9" font-family="Liberation Serif" font-size="16.48" font-weight="normal" text-anchor="middle" fill="#0b0f1e" stroke="#0b0f1e" stroke-width="0.35" textLength="99.8" lengthAdjust="spacingAndGlyphs">Sitting Room</text>
<text x="422.2" y="486.9" font-family="Liberation Serif" font-size="16.48" font-weight="normal" text-anchor="middle" fill="#0b0f1e" stroke="#0b0f1e" stroke-width="0.35" textLength="83.6" lengthAdjust="spacingAndGlyphs">4.05 x 2.96</text>
<text x="423.0" y="504.0" font-family="Liberation Serif" font-size="16.48" font-weight="normal" text-anchor="middle" fill="#0b0f1e" stroke="#0b0f1e" stroke-width="0.35" textLength="82.0" lengthAdjust="spacingAndGlyphs">13'3&quot; x 9'9&quot;</text>
<text x="567.2" y="476.9" font-family="Liberation Serif" font-size="16.48" font-weight="normal" text-anchor="middle" fill="#0b0f1e" stroke="#0b0f1e" stroke-width="0.35" textLength="99.9" lengthAdjust="spacingAndGlyphs">Dining Room</text>
<text x="564.6" y="493.1" font-family="Liberation Serif" font-size="16.48" font-weight="normal" text-anchor="middle" fill="#0b0f1e" stroke="#0b0f1e" stroke-width="0.35" textLength="82.3" lengthAdjust="spacingAndGlyphs">4.05 x 3.98</text>
<text x="566.5" y="510.3" font-family="Liberation Serif" font-size="16.48" font-weight="normal" text-anchor="middle" fill="#0b0f1e" stroke="#0b0f1e" stroke-width="0.35" textLength="88.6" lengthAdjust="spacingAndGlyphs">13'3&quot; x 13'1&quot;</text>
<text x="304.0" y="593.9" font-family="Liberation Serif" font-size="16.48" font-weight="normal" text-anchor="middle" fill="#0b0f1e" stroke="#0b0f1e" stroke-width="0.35" textLength="48.7" lengthAdjust="spacingAndGlyphs">Study/</text>
<text x="306.1" y="614.0" font-family="Liberation Serif" font-size="16.48" font-weight="normal" text-anchor="middle" fill="#0b0f1e" stroke="#0b0f1e" stroke-width="0.35" textLength="68.5" lengthAdjust="spacingAndGlyphs">Bedroom</text>
<text x="305.8" y="629.2" font-family="Liberation Serif" font-size="16.48" font-weight="normal" text-anchor="middle" fill="#0b0f1e" stroke="#0b0f1e" stroke-width="0.35" textLength="81.5" lengthAdjust="spacingAndGlyphs">3.14 x 3.03</text>
<text x="307.8" y="646.1" font-family="Liberation Serif" font-size="16.48" font-weight="normal" text-anchor="middle" fill="#0b0f1e" stroke="#0b0f1e" stroke-width="0.35" textLength="87.5" lengthAdjust="spacingAndGlyphs">10'4&quot; x 9'11&quot;</text>
<text x="496.0" y="731.9" font-family="Liberation Serif" font-size="16.48" font-weight="normal" text-anchor="middle" fill="#0b0f1e" stroke="#0b0f1e" stroke-width="0.35" textLength="58.4" lengthAdjust="spacingAndGlyphs">Kitchen</text>
<text x="496.5" y="748.6" font-family="Liberation Serif" font-size="16.48" font-weight="normal" text-anchor="middle" fill="#0b0f1e" stroke="#0b0f1e" stroke-width="0.35" textLength="82.4" lengthAdjust="spacingAndGlyphs">7.02 x 5.94</text>
<text x="497.9" y="765.6" font-family="Liberation Serif" font-size="16.48" font-weight="normal" text-anchor="middle" fill="#0b0f1e" stroke="#0b0f1e" stroke-width="0.35" textLength="91.1" lengthAdjust="spacingAndGlyphs">23'0&quot; x 19'6&quot;</text>
<text x="285.9" y="839.6" font-family="Liberation Serif" font-size="16.48" font-weight="normal" text-anchor="middle" fill="#0b0f1e" stroke="#0b0f1e" stroke-width="0.35" textLength="48.2" lengthAdjust="spacingAndGlyphs">Utility</text>
<text x="287.6" y="856.4" font-family="Liberation Serif" font-size="16.48" font-weight="normal" text-anchor="middle" fill="#0b0f1e" stroke="#0b0f1e" stroke-width="0.35" textLength="80.5" lengthAdjust="spacingAndGlyphs">2.67 x 1.43</text>
<text x="288.1" y="872.7" font-family="Liberation Serif" font-size="16.48" font-weight="normal" text-anchor="middle" fill="#0b0f1e" stroke="#0b0f1e" stroke-width="0.35" textLength="74.3" lengthAdjust="spacingAndGlyphs">8'9&quot; x 4'8&quot;</text>
<text x="460.6" y="859.7" font-family="Liberation Serif" font-size="23.69" font-weight="normal" text-anchor="middle" fill="#0b0f1e" stroke="#0b0f1e" stroke-width="0.35" textLength="139.9" lengthAdjust="spacingAndGlyphs">Ground Floor</text>
<path d="M821.7,395.5 V265.2 H1070.8 V395.5 H1067.2 V268.8 H825.3000000000001 V395.5 Z" fill="url(#hatch)" fill-rule="evenodd" stroke="#9a9a9a" stroke-width="0.7"/>
<text x="942.3" y="312.7" font-family="Liberation Serif" font-size="16.48" font-weight="normal" text-anchor="middle" fill="#0b0f1e" stroke="#0b0f1e" stroke-width="0.35" textLength="60.6" lengthAdjust="spacingAndGlyphs">Balcony</text>
<text x="943.9" y="329.6" font-family="Liberation Serif" font-size="16.48" font-weight="normal" text-anchor="middle" fill="#0b0f1e" stroke="#0b0f1e" stroke-width="0.35" textLength="81.7" lengthAdjust="spacingAndGlyphs">6.09 x 3.17</text>
<text x="945.6" y="347.0" font-family="Liberation Serif" font-size="16.48" font-weight="normal" text-anchor="middle" fill="#0b0f1e" stroke="#0b0f1e" stroke-width="0.35" textLength="91.3" lengthAdjust="spacingAndGlyphs">20'0&quot; x 10'5&quot;</text>
<rect x="792.1" y="395.5" width="221.0" height="11.7" fill="#041634"/>
<rect x="1043.6" y="395.5" width="52.7" height="11.7" fill="#041634"/>
<line x1="1043.6" y1="395.5" x2="1019.9" y2="376.9" stroke="#041634" stroke-width="1.6"/>
<path d="M1019.9,376.9 A30.1,30.1 0 0 0 1013.1,395.5" fill="none" stroke="#b4b4b4" stroke-width="0.9"/>
<rect x="792.1" y="395.5" width="11.3" height="57.7" fill="#041634"/>
<line x1="792.6" y1="453.2" x2="792.6" y2="521.0" stroke="#b4b4b4" stroke-width="0.9"/>
<line x1="797.8" y1="453.2" x2="797.8" y2="521.0" stroke="#b4b4b4" stroke-width="0.9"/>
<line x1="802.9" y1="453.2" x2="802.9" y2="521.0" stroke="#b4b4b4" stroke-width="0.9"/>
<line x1="792.1" y1="453.7" x2="803.4" y2="453.7" stroke="#b4b4b4" stroke-width="0.9"/>
<line x1="792.1" y1="520.5" x2="803.4" y2="520.5" stroke="#b4b4b4" stroke-width="0.9"/>
<rect x="792.1" y="521.0" width="11.3" height="52.9" fill="#041634"/>
<rect x="1084.8" y="395.5" width="11.5" height="35.4" fill="#041634"/>
<line x1="1085.3" y1="430.9" x2="1085.3" y2="520.5" stroke="#b4b4b4" stroke-width="0.9"/>
<line x1="1090.5" y1="430.9" x2="1090.5" y2="520.5" stroke="#b4b4b4" stroke-width="0.9"/>
<line x1="1095.8" y1="430.9" x2="1095.8" y2="520.5" stroke="#b4b4b4" stroke-width="0.9"/>
<line x1="1084.8" y1="431.4" x2="1096.3" y2="431.4" stroke="#b4b4b4" stroke-width="0.9"/>
<line x1="1084.8" y1="520.0" x2="1096.3" y2="520.0" stroke="#b4b4b4" stroke-width="0.9"/>
<rect x="1084.8" y="520.5" width="11.5" height="38.1" fill="#041634"/>
<line x1="1085.3" y1="558.6" x2="1085.3" y2="602.2" stroke="#b4b4b4" stroke-width="0.9"/>
<line x1="1090.5" y1="558.6" x2="1090.5" y2="602.2" stroke="#b4b4b4" stroke-width="0.9"/>
<line x1="1095.8" y1="558.6" x2="1095.8" y2="602.2" stroke="#b4b4b4" stroke-width="0.9"/>
<line x1="1084.8" y1="559.1" x2="1096.3" y2="559.1" stroke="#b4b4b4" stroke-width="0.9"/>
<line x1="1084.8" y1="601.7" x2="1096.3" y2="601.7" stroke="#b4b4b4" stroke-width="0.9"/>
<rect x="1084.8" y="602.2" width="11.5" height="33.7" fill="#041634"/>
<line x1="1085.3" y1="635.9" x2="1085.3" y2="681.0" stroke="#b4b4b4" stroke-width="0.9"/>
<line x1="1090.5" y1="635.9" x2="1090.5" y2="681.0" stroke="#b4b4b4" stroke-width="0.9"/>
<line x1="1095.8" y1="635.9" x2="1095.8" y2="681.0" stroke="#b4b4b4" stroke-width="0.9"/>
<line x1="1084.8" y1="636.4" x2="1096.3" y2="636.4" stroke="#b4b4b4" stroke-width="0.9"/>
<line x1="1084.8" y1="680.5" x2="1096.3" y2="680.5" stroke="#b4b4b4" stroke-width="0.9"/>
<rect x="1084.8" y="681.0" width="11.5" height="37.7" fill="#041634"/>
<line x1="1085.3" y1="718.7" x2="1085.3" y2="790.0" stroke="#b4b4b4" stroke-width="0.9"/>
<line x1="1090.5" y1="718.7" x2="1090.5" y2="790.0" stroke="#b4b4b4" stroke-width="0.9"/>
<line x1="1095.8" y1="718.7" x2="1095.8" y2="790.0" stroke="#b4b4b4" stroke-width="0.9"/>
<line x1="1084.8" y1="719.2" x2="1096.3" y2="719.2" stroke="#b4b4b4" stroke-width="0.9"/>
<line x1="1084.8" y1="789.5" x2="1096.3" y2="789.5" stroke="#b4b4b4" stroke-width="0.9"/>
<rect x="1084.8" y="790.0" width="11.5" height="31.7" fill="#041634"/>
<rect x="1079.5" y="524.3" width="5.5" height="32.2" fill="#041634"/>
<rect x="1078.5" y="684.4" width="6.5" height="8.9" fill="#041634"/>
<rect x="682.9" y="562.6" width="46.6" height="11.3" fill="#041634"/>
<line x1="729.5" y1="563.1" x2="752.3" y2="563.1" stroke="#b4b4b4" stroke-width="0.9"/>
<line x1="729.5" y1="568.2" x2="752.3" y2="568.2" stroke="#b4b4b4" stroke-width="0.9"/>
<line x1="729.5" y1="573.4" x2="752.3" y2="573.4" stroke="#b4b4b4" stroke-width="0.9"/>
<line x1="730.0" y1="562.6" x2="730.0" y2="573.9" stroke="#b4b4b4" stroke-width="0.9"/>
<line x1="751.8" y1="562.6" x2="751.8" y2="573.9" stroke="#b4b4b4" stroke-width="0.9"/>
<rect x="752.3" y="562.6" width="51.1" height="11.3" fill="#041634"/>
<rect x="682.9" y="562.6" width="11.3" height="38.7" fill="#041634"/>
<line x1="683.4" y1="601.3" x2="683.4" y2="650.8" stroke="#b4b4b4" stroke-width="0.9"/>
<line x1="688.5" y1="601.3" x2="688.5" y2="650.8" stroke="#b4b4b4" stroke-width="0.9"/>
<line x1="693.7" y1="601.3" x2="693.7" y2="650.8" stroke="#b4b4b4" stroke-width="0.9"/>
<line x1="682.9" y1="601.8" x2="694.2" y2="601.8" stroke="#b4b4b4" stroke-width="0.9"/>
<line x1="682.9" y1="650.3" x2="694.2" y2="650.3" stroke="#b4b4b4" stroke-width="0.9"/>
<rect x="682.9" y="650.8" width="11.3" height="68.8" fill="#041634"/>
<line x1="683.4" y1="719.6" x2="683.4" y2="790.0" stroke="#b4b4b4" stroke-width="0.9"/>
<line x1="688.5" y1="719.6" x2="688.5" y2="790.0" stroke="#b4b4b4" stroke-width="0.9"/>
<line x1="693.7" y1="719.6" x2="693.7" y2="790.0" stroke="#b4b4b4" stroke-width="0.9"/>
<line x1="682.9" y1="720.1" x2="694.2" y2="720.1" stroke="#b4b4b4" stroke-width="0.9"/>
<line x1="682.9" y1="789.5" x2="694.2" y2="789.5" stroke="#b4b4b4" stroke-width="0.9"/>
<rect x="682.9" y="790.0" width="11.3" height="31.7" fill="#041634"/>
<rect x="803.4" y="568.5" width="15.3" height="5.5" fill="#041634"/>
<rect x="848.4" y="568.5" width="106.4" height="5.5" fill="#041634"/>
<line x1="819.3" y1="568.6" x2="819.3" y2="538.8" stroke="#041634" stroke-width="1.6"/>
<path d="M819.3,538.8 A29.8,29.8 0 0 1 848.4,568.6" fill="none" stroke="#b4b4b4" stroke-width="0.9"/>
<rect x="799.5" y="573.9" width="5.3" height="12.5" fill="#041634"/>
<rect x="799.5" y="616.1" width="5.3" height="17.9" fill="#041634"/>
<line x1="800.0" y1="634.0" x2="800.0" y2="647.8" stroke="#b4b4b4" stroke-width="0.9"/>
<line x1="802.1" y1="634.0" x2="802.1" y2="647.8" stroke="#b4b4b4" stroke-width="0.9"/>
<line x1="804.3" y1="634.0" x2="804.3" y2="647.8" stroke="#b4b4b4" stroke-width="0.9"/>
<line x1="799.5" y1="634.5" x2="804.8" y2="634.5" stroke="#b4b4b4" stroke-width="0.9"/>
<line x1="799.5" y1="647.3" x2="804.8" y2="647.3" stroke="#b4b4b4" stroke-width="0.9"/>
<rect x="799.5" y="647.8" width="5.3" height="16.5" fill="#041634"/>
<line x1="800.0" y1="664.3" x2="800.0" y2="678.2" stroke="#b4b4b4" stroke-width="0.9"/>
<line x1="802.1" y1="664.3" x2="802.1" y2="678.2" stroke="#b4b4b4" stroke-width="0.9"/>
<line x1="804.3" y1="664.3" x2="804.3" y2="678.2" stroke="#b4b4b4" stroke-width="0.9"/>
<line x1="799.5" y1="664.8" x2="804.8" y2="664.8" stroke="#b4b4b4" stroke-width="0.9"/>
<line x1="799.5" y1="677.7" x2="804.8" y2="677.7" stroke="#b4b4b4" stroke-width="0.9"/>
<rect x="799.5" y="678.2" width="5.3" height="20.0" fill="#041634"/>
<line x1="799.5" y1="587.4" x2="769.7" y2="587.4" stroke="#041634" stroke-width="1.6"/>
<path d="M769.7,587.4 A29.8,29.8 0 0 0 799.5,616.1" fill="none" stroke="#b4b4b4" stroke-width="0.9"/>
<rect x="694.2" y="692.3" width="114.0" height="5.9" fill="#041634"/>
<path d="M808.3,698.1 A29.6,29.6 0 0 0 837.9,727.8" fill="none" stroke="#b4b4b4" stroke-width="0.9"/>
<line x1="837.9" y1="698.1" x2="837.9" y2="727.8" stroke="#041634" stroke-width="1.5"/>
<rect x="838.5" y="692.3" width="38.3" height="5.5" fill="#041634"/>
<rect x="876.8" y="692.3" width="15.9" height="2.5" fill="#041634"/>
<rect x="877.1" y="695.1" width="15.3" height="2.6" fill="#fff" stroke="#b4b4b4" stroke-width="0.7"/>
<rect x="892.7" y="692.3" width="32.7" height="5.5" fill="#041634"/>
<rect x="844.5" y="692.3" width="5.9" height="40.2" fill="#041634"/>
<rect x="844.5" y="727.6" width="18.4" height="4.9" fill="#041634"/>
<rect x="857.8" y="727.6" width="5.1" height="32.7" fill="#041634"/>
<rect x="857.8" y="790.0" width="5.1" height="20.4" fill="#041634"/>
<line x1="857.4" y1="760.9" x2="839.5" y2="782.7" stroke="#041634" stroke-width="1.6"/>
<path d="M839.5,782.7 A28.2,28.2 0 0 0 857.8,790.0" fill="none" stroke="#b4b4b4" stroke-width="0.9"/>
<rect x="682.9" y="810.4" width="206.8" height="11.3" fill="#041634"/>
<line x1="889.7" y1="810.9" x2="911.1" y2="810.9" stroke="#b4b4b4" stroke-width="0.9"/>
<line x1="889.7" y1="816.0" x2="911.1" y2="816.0" stroke="#b4b4b4" stroke-width="0.9"/>
<line x1="889.7" y1="821.2" x2="911.1" y2="821.2" stroke="#b4b4b4" stroke-width="0.9"/>
<line x1="890.2" y1="810.4" x2="890.2" y2="821.7" stroke="#b4b4b4" stroke-width="0.9"/>
<line x1="910.6" y1="810.4" x2="910.6" y2="821.7" stroke="#b4b4b4" stroke-width="0.9"/>
<rect x="911.1" y="810.4" width="185.2" height="11.3" fill="#041634"/>
<rect x="913.1" y="692.3" width="5.4" height="118.1" fill="#041634"/>
<rect x="918.5" y="717.3" width="40.6" height="4.3" fill="#041634"/>
<rect x="954.7" y="692.3" width="4.4" height="29.3" fill="#041634"/>
<rect x="947.2" y="692.3" width="11.9" height="5.5" fill="#041634"/>
<rect x="918.5" y="747.0" width="31.7" height="4.0" fill="#041634"/>
<rect x="947.2" y="743.8" width="3.0" height="7.2" fill="#041634"/>
<rect x="918.5" y="781.0" width="31.7" height="4.0" fill="#041634"/>
<rect x="947.2" y="781.0" width="3.0" height="7.0" fill="#041634"/>
<rect x="947.2" y="721.6" width="3.0" height="4.0" fill="#041634"/>
<rect x="947.2" y="806.5" width="3.0" height="3.9" fill="#041634"/>
<line x1="950.2" y1="725.6" x2="962.1" y2="739.5" stroke="#041634" stroke-width="1.6"/>
<path d="M962.1,739.5 A18.3,18.3 0 0 1 950.2,743.8" fill="none" stroke="#b4b4b4" stroke-width="0.9"/>
<line x1="950.2" y1="806.9" x2="962.1" y2="792.0" stroke="#041634" stroke-width="1.6"/>
<path d="M962.1,792.0 A19.1,19.1 0 0 0 950.2,788.0" fill="none" stroke="#b4b4b4" stroke-width="0.9"/>
<line x1="950.2" y1="751.0" x2="950.2" y2="781.0" stroke="#b4b4b4" stroke-width="0.9"/>
<line x1="925.5" y1="692.3" x2="942.3" y2="678.5" stroke="#041634" stroke-width="1.6"/>
<path d="M942.3,678.5 A21.7,21.7 0 0 1 947.2,692.3" fill="none" stroke="#b4b4b4" stroke-width="0.9"/>
<rect x="990.8" y="692.3" width="94.2" height="5.5" fill="#041634"/>
<rect x="990.8" y="673.5" width="5.0" height="24.3" fill="#041634"/>
<path d="M990.8,697.8 A29.8,29.8 0 0 1 961.1,727.6" fill="none" stroke="#b4b4b4" stroke-width="0.9"/>
<line x1="961.1" y1="697.8" x2="961.1" y2="727.6" stroke="#041634" stroke-width="1.5"/>
<rect x="954.8" y="524.5" width="41.0" height="5.4" fill="#041634"/>
<rect x="1026.5" y="524.5" width="58.5" height="5.4" fill="#041634"/>
<rect x="954.8" y="524.5" width="5.4" height="116.3" fill="#041634"/>
<rect x="960.2" y="605.2" width="60.8" height="5.9" fill="#041634"/>
<rect x="1035.8" y="605.2" width="49.2" height="5.9" fill="#041634"/>
<rect x="1021.0" y="605.2" width="14.8" height="2.7" fill="#041634"/>
<rect x="990.5" y="611.1" width="5.3" height="32.7" fill="#041634"/>
<rect x="954.8" y="635.0" width="10.2" height="5.8" fill="#041634"/>
<rect x="986.5" y="635.0" width="9.3" height="8.8" fill="#041634"/>
<line x1="996.1" y1="530.2" x2="1019.9" y2="548.9" stroke="#041634" stroke-width="1.6"/>
<path d="M1019.9,548.9 A30.3,30.3 0 0 0 1026.5,530.0" fill="none" stroke="#b4b4b4" stroke-width="0.9"/>
<line x1="964.7" y1="640.8" x2="981.0" y2="653.7" stroke="#041634" stroke-width="1.6"/>
<path d="M981.0,653.7 A20.8,20.8 0 0 0 986.5,640.8" fill="none" stroke="#b4b4b4" stroke-width="0.9"/>
<line x1="995.8" y1="643.8" x2="1014.2" y2="666.6" stroke="#041634" stroke-width="1.6"/>
<path d="M1014.2,666.6 A29.3,29.3 0 0 1 995.8,673.5" fill="none" stroke="#b4b4b4" stroke-width="0.9"/>
<rect x="961.5" y="531.2" width="32.3" height="72.6" rx="3" fill="none" stroke="#b4b4b4" stroke-width="0.9"/>
<line x1="993.0" y1="531.2" x2="993.0" y2="603.8" stroke="#b4b4b4" stroke-width="1.5"/>
<polyline points="970.0,546.0 977.5,538.0 985.0,546.0" fill="none" stroke="#b4b4b4" stroke-width="1.0"/>
<line x1="977.5" y1="538.0" x2="977.5" y2="548.0" stroke="#b4b4b4" stroke-width="0.9"/>
<rect x="1022.6" y="574.4" width="54.4" height="28.8" rx="14.4" fill="none" stroke="#b4b4b4" stroke-width="0.9"/>
<rect x="1025.5" y="577.3" width="48.6" height="23" rx="11.5" fill="none" stroke="#b4b4b4" stroke-width="0.9"/>
<rect x="1033" y="582" width="35" height="14" rx="7" fill="none" stroke="#b4b4b4" stroke-width="0.9"/>
<path d="M1028.5,530 L1028.5,538 A11,11 0 0 0 1050.5,538 L1050.5,530" fill="none" stroke="#b4b4b4" stroke-width="0.9"/>
<ellipse cx="1068.3" cy="543" rx="7" ry="10" fill="none" stroke="#b4b4b4" stroke-width="0.9"/>
<rect x="1061" y="531" width="15" height="3.5" fill="none" stroke="#b4b4b4" stroke-width="0.9"/>
<path d="M997,612.1 L1048,612.1 A14,12.8 0 0 1 1048,637.8 L997,637.8" fill="none" stroke="#b4b4b4" stroke-width="0.9"/>
<rect x="996.8" y="611.5" width="65.4" height="26.5" fill="none" stroke="#b4b4b4" stroke-width="0.9"/>
<rect x="1021.4" y="608.2" width="14" height="2.6" fill="#fff" stroke="#b4b4b4" stroke-width="0.7"/>
<path d="M1026.5,691 L1026.5,685 A11.4,10.5 0 0 1 1049.3,685 L1049.3,691" fill="none" stroke="#b4b4b4" stroke-width="0.9"/>
<ellipse cx="1067.3" cy="676.5" rx="6.5" ry="8.6" fill="none" stroke="#b4b4b4" stroke-width="0.9"/>
<rect x="1059.5" y="688.7" width="16" height="3" fill="none" stroke="#b4b4b4" stroke-width="0.9"/>
<rect x="850.6" y="698.2" width="62" height="29.2" fill="none" stroke="#b4b4b4" stroke-width="0.8"/>
<path d="M855,700.2 L898,700.2 A12.5,12.6 0 0 1 898,725.4 L855,725.4 A2.5,2.5 0 0 1 852.5,723 L852.5,702.7 A2.5,2.5 0 0 1 855,700.2 Z" fill="none" stroke="#b4b4b4" stroke-width="0.9"/>
<path d="M867,810 L867,802 A11.7,10 0 0 1 890.4,802 L890.4,810" fill="none" stroke="#b4b4b4" stroke-width="0.9"/>
<path d="M869.5,808 L869.5,803 A9.2,7.5 0 0 1 887.9,803 L887.9,808 Z" fill="none" stroke="#b4b4b4" stroke-width="0.8"/>
<ellipse cx="903.5" cy="797" rx="6.3" ry="9" fill="none" stroke="#b4b4b4" stroke-width="0.9"/>
<rect x="895.5" y="806" width="16" height="4" fill="none" stroke="#b4b4b4" stroke-width="0.9"/>
<rect x="882.3" y="574.4" width="72.5" height="83.3" fill="none" stroke="#b4b4b4" stroke-width="0.9"/>
<path d="M882.3,574.4 H885.8 V654.2 H919 V606.5 H922.5 V657.7 H882.3 Z" fill="url(#hatch)" fill-rule="evenodd" stroke="#9a9a9a" stroke-width="0.7"/>
<path d="M885.8,606.5 H919 V610 H885.8 Z" fill="url(#hatch)" fill-rule="evenodd" stroke="#9a9a9a" stroke-width="0.7"/>
<path d="M957.2,640.8 V657.7 H953.7 V640.8 Z" fill="url(#hatch)" fill-rule="evenodd" stroke="#9a9a9a" stroke-width="0.7"/>
<line x1="922.5" y1="657.7" x2="957.2" y2="657.7" stroke="#b4b4b4" stroke-width="0.9"/>
<line x1="922.5" y1="615.0" x2="957.2" y2="615.0" stroke="#b4b4b4" stroke-width="0.9"/>
<line x1="922.5" y1="624.0" x2="957.2" y2="624.0" stroke="#b4b4b4" stroke-width="0.9"/>
<line x1="922.5" y1="633.0" x2="957.2" y2="633.0" stroke="#b4b4b4" stroke-width="0.9"/>
<line x1="922.5" y1="642.0" x2="957.2" y2="642.0" stroke="#b4b4b4" stroke-width="0.9"/>
<line x1="922.5" y1="650.0" x2="957.2" y2="650.0" stroke="#b4b4b4" stroke-width="0.9"/>
<line x1="905.7" y1="574.4" x2="905.7" y2="606.5" stroke="#b4b4b4" stroke-width="0.9"/>
<line x1="913.6" y1="574.4" x2="913.6" y2="606.5" stroke="#b4b4b4" stroke-width="0.9"/>
<line x1="922.5" y1="574.4" x2="922.5" y2="606.5" stroke="#b4b4b4" stroke-width="0.9"/>
<line x1="905.7" y1="589.9" x2="938.4" y2="589.9" stroke="#b4b4b4" stroke-width="0.9"/>
<line x1="938.4" y1="589.9" x2="938.4" y2="606.5" stroke="#b4b4b4" stroke-width="0.9"/>
<polygon points="906.5,589.9 912,588.4 912,591.4" fill="#041634"/>
<text x="938.4" y="456.0" font-family="Liberation Serif" font-size="16.48" font-weight="normal" text-anchor="middle" fill="#0b0f1e" stroke="#0b0f1e" stroke-width="0.35" textLength="69.5" lengthAdjust="spacingAndGlyphs">Bedroom</text>
<text x="938.5" y="472.5" font-family="Liberation Serif" font-size="16.48" font-weight="normal" text-anchor="middle" fill="#0b0f1e" stroke="#0b0f1e" stroke-width="0.35" textLength="82.9" lengthAdjust="spacingAndGlyphs">7.09 x 4.05</text>
<text x="940.0" y="489.5" font-family="Liberation Serif" font-size="16.48" font-weight="normal" text-anchor="middle" fill="#0b0f1e" stroke="#0b0f1e" stroke-width="0.35" textLength="92.1" lengthAdjust="spacingAndGlyphs">23'3&quot; x 13'3&quot;</text>
<text x="744.6" y="627.6" font-family="Liberation Serif" font-size="16.48" font-weight="normal" text-anchor="middle" fill="#0b0f1e" stroke="#0b0f1e" stroke-width="0.35" textLength="67.8" lengthAdjust="spacingAndGlyphs">Bedroom</text>
<text x="746.4" y="643.9" font-family="Liberation Serif" font-size="16.48" font-weight="normal" text-anchor="middle" fill="#0b0f1e" stroke="#0b0f1e" stroke-width="0.35" textLength="83.3" lengthAdjust="spacingAndGlyphs">3.00 x 2.63</text>
<text x="746.9" y="661.1" font-family="Liberation Serif" font-size="16.48" font-weight="normal" text-anchor="middle" fill="#0b0f1e" stroke="#0b0f1e" stroke-width="0.35" textLength="82.3" lengthAdjust="spacingAndGlyphs">9'10&quot; x 8'8&quot;</text>
<text x="778.2" y="742.4" font-family="Liberation Serif" font-size="16.48" font-weight="normal" text-anchor="middle" fill="#0b0f1e" stroke="#0b0f1e" stroke-width="0.35" textLength="68.4" lengthAdjust="spacingAndGlyphs">Bedroom</text>
<text x="778.5" y="759.3" font-family="Liberation Serif" font-size="16.48" font-weight="normal" text-anchor="middle" fill="#0b0f1e" stroke="#0b0f1e" stroke-width="0.35" textLength="81.0" lengthAdjust="spacingAndGlyphs">4.12 x 2.84</text>
<text x="778.9" y="776.5" font-family="Liberation Serif" font-size="16.48" font-weight="normal" text-anchor="middle" fill="#0b0f1e" stroke="#0b0f1e" stroke-width="0.35" textLength="81.7" lengthAdjust="spacingAndGlyphs">13'6&quot; x 9'4&quot;</text>
<text x="1017.6" y="743.8" font-family="Liberation Serif" font-size="16.48" font-weight="normal" text-anchor="middle" fill="#0b0f1e" stroke="#0b0f1e" stroke-width="0.35" textLength="68.6" lengthAdjust="spacingAndGlyphs">Bedroom</text>
<text x="1017.9" y="760.3" font-family="Liberation Serif" font-size="16.48" font-weight="normal" text-anchor="middle" fill="#0b0f1e" stroke="#0b0f1e" stroke-width="0.35" textLength="81.3" lengthAdjust="spacingAndGlyphs">4.21 x 2.84</text>
<text x="1019.8" y="777.1" font-family="Liberation Serif" font-size="16.48" font-weight="normal" text-anchor="middle" fill="#0b0f1e" stroke="#0b0f1e" stroke-width="0.35" textLength="88.8" lengthAdjust="spacingAndGlyphs">13'10&quot; x 9'4&quot;</text>
<text x="906.5" y="865.5" font-family="Liberation Serif" font-size="23.69" font-weight="normal" text-anchor="middle" fill="#0b0f1e" stroke="#0b0f1e" stroke-width="0.35" textLength="111.0" lengthAdjust="spacingAndGlyphs">First Floor</text>
<path d="M1144.5,459.5 A44.1,86.5 0 1 1 1148.3,485.3" fill="none" stroke="#041634" stroke-width="8"/>
<rect x="1147.3" y="446.6" width="21.6" height="5.7" fill="#041634"/>
<rect x="1199.0" y="446.6" width="30.2" height="5.7" fill="#041634"/>
<line x1="1199.0" y1="452.3" x2="1176.0" y2="471.0" stroke="#041634" stroke-width="1.6"/>
<path d="M1176.0,471.0 A29.6,29.6 0 0 1 1168.9,452.3" fill="none" stroke="#b4b4b4" stroke-width="0.9"/>
<line x1="1143.7" y1="486.0" x2="1124.4" y2="468.7" stroke="#041634" stroke-width="1.6"/>
<path d="M1124.4,468.7 A26.0,26.0 0 0 1 1139.8,460.2" fill="none" stroke="#b4b4b4" stroke-width="0.9"/>
<line x1="1164.6" y1="387.0" x2="1164.6" y2="446.6" stroke="#b4b4b4" stroke-width="0.9"/>
<line x1="1206.2" y1="372.0" x2="1206.2" y2="446.6" stroke="#b4b4b4" stroke-width="0.9"/>
<path d="M1206.2,452.3 L1206.2,498.4 Q1206,506 1187.8,515.2 L1152.7,491.4" fill="none" stroke="#b4b4b4" stroke-width="0.9"/>
<rect x="1178" y="374.7" width="18.8" height="14.4" fill="none" stroke="#b4b4b4" stroke-width="0.9"/>
<circle cx="1187.4" cy="382" r="2.2" fill="none" stroke="#b4b4b4" stroke-width="0.8"/>
<line x1="1176.0" y1="351.8" x2="1176.0" y2="399.2" stroke="#b4b4b4" stroke-width="0.9"/>
<polygon points="1176,399.5 1174.8,393 1177.2,393" fill="#041634"/>
<text x="1190.5" y="314.4" font-family="Liberation Serif" font-size="16.48" font-weight="normal" text-anchor="middle" fill="#0b0f1e" stroke="#0b0f1e" stroke-width="0.35" textLength="44.5" lengthAdjust="spacingAndGlyphs">Sauna</text>
<text x="1191.2" y="331.7" font-family="Liberation Serif" font-size="16.48" font-weight="normal" text-anchor="middle" fill="#0b0f1e" stroke="#0b0f1e" stroke-width="0.35" textLength="79.0" lengthAdjust="spacingAndGlyphs">4.21 x 2.12</text>
<text x="1195.4" y="348.9" font-family="Liberation Serif" font-size="16.48" font-weight="normal" text-anchor="middle" fill="#0b0f1e" stroke="#0b0f1e" stroke-width="0.35" textLength="96.3" lengthAdjust="spacingAndGlyphs">13'10&quot; x 6'11&quot;</text>
<text x="1181.8" y="563.0" font-family="Liberation Serif" font-size="23.69" font-weight="normal" text-anchor="middle" fill="#0b0f1e" stroke="#0b0f1e" stroke-width="0.35" textLength="122.7" lengthAdjust="spacingAndGlyphs">Outbuilding</text>
<rect x="1132.1" y="583.1" width="159.9" height="11.5" fill="#041634"/>
<rect x="1132.1" y="583.1" width="11.9" height="63.4" fill="#041634"/>
<rect x="1280.8" y="583.1" width="11.2" height="63.4" fill="#041634"/>
<rect x="1205.3" y="635.1" width="12.8" height="11.4" fill="#041634"/>
<line x1="1267.8" y1="571.5" x2="1267.8" y2="614.2" stroke="#b4b4b4" stroke-width="0.9"/>
<polygon points="1267.8,614.5 1266.6,608 1269,608" fill="#041634"/>
<text x="1301.8" y="542.2" font-family="Liberation Serif" font-size="16.48" font-weight="normal" text-anchor="middle" fill="#0b0f1e" stroke="#0b0f1e" stroke-width="0.35" textLength="107.1" lengthAdjust="spacingAndGlyphs">Wood Storage</text>
<text x="1298.0" y="558.7" font-family="Liberation Serif" font-size="16.48" font-weight="normal" text-anchor="middle" fill="#0b0f1e" stroke="#0b0f1e" stroke-width="0.35" textLength="80.5" lengthAdjust="spacingAndGlyphs">3.44 x 1.33</text>
<text x="1300.3" y="576.0" font-family="Liberation Serif" font-size="16.48" font-weight="normal" text-anchor="middle" fill="#0b0f1e" stroke="#0b0f1e" stroke-width="0.35" textLength="79.9" lengthAdjust="spacingAndGlyphs">11'3&quot; x 4'4&quot;</text>
<text x="1213.8" y="671.0" font-family="Liberation Serif" font-size="23.69" font-weight="normal" text-anchor="middle" fill="#0b0f1e" stroke="#0b0f1e" stroke-width="0.35" textLength="123.5" lengthAdjust="spacingAndGlyphs">Outbuilding</text>
<rect x="1132.5" y="680.8" width="142.5" height="12.1" fill="#041634"/>
<rect x="1132.5" y="680.8" width="11.4" height="140.7" fill="#041634"/>
<rect x="1263.2" y="680.8" width="11.8" height="140.7" fill="#041634"/>
<rect x="1132.5" y="810.0" width="42.0" height="11.5" fill="#041634"/>
<rect x="1233.0" y="810.0" width="42.0" height="11.5" fill="#041634"/>
<line x1="1174.5" y1="821.5" x2="1197.4" y2="839.6" stroke="#041634" stroke-width="1.6"/>
<line x1="1233.0" y1="821.5" x2="1209.9" y2="839.6" stroke="#041634" stroke-width="1.6"/>
<path d="M1197.4,839.6 A30.0,30.0 0 0 0 1203.6,821.9" fill="none" stroke="#b4b4b4" stroke-width="0.9"/>
<path d="M1203.6,821.9 A30.0,30.0 0 0 0 1209.9,839.6" fill="none" stroke="#b4b4b4" stroke-width="0.9"/>
<text x="1203.9" y="742.4" font-family="Liberation Serif" font-size="16.48" font-weight="normal" text-anchor="middle" fill="#0b0f1e" stroke="#0b0f1e" stroke-width="0.35" textLength="86.7" lengthAdjust="spacingAndGlyphs">Shed/Store</text>
<text x="1203.8" y="759.0" font-family="Liberation Serif" font-size="16.48" font-weight="normal" text-anchor="middle" fill="#0b0f1e" stroke="#0b0f1e" stroke-width="0.35" textLength="82.1" lengthAdjust="spacingAndGlyphs">3.01 x 2.96</text>
<text x="1204.2" y="776.1" font-family="Liberation Serif" font-size="16.48" font-weight="normal" text-anchor="middle" fill="#0b0f1e" stroke="#0b0f1e" stroke-width="0.35" textLength="81.1" lengthAdjust="spacingAndGlyphs">9'11&quot; x 9'9&quot;</text>
<text x="1206.5" y="864.5" font-family="Liberation Serif" font-size="23.69" font-weight="normal" text-anchor="middle" fill="#0b0f1e" stroke="#0b0f1e" stroke-width="0.35" textLength="123.1" lengthAdjust="spacingAndGlyphs">Outbuilding</text>
</svg>
</body></html>
